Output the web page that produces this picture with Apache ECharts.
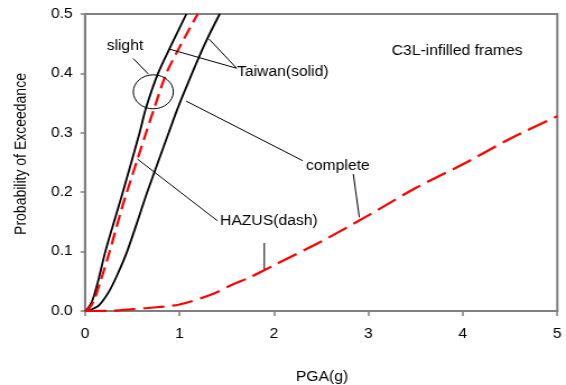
<!DOCTYPE html>
<html>
<head>
<meta charset="utf-8">
<script src="https://cdn.jsdelivr.net/npm/echarts@6/dist/echarts.min.js"></script>
<style>
  html, body { margin: 0; padding: 0; background: #fff; overflow: hidden; }
  /* the figure is drawn 505 px wide and widened to 566 px, as in the printed figure */
  #chart { width: 505px; height: 385px; transform: scaleX(1.12079); transform-origin: 0 0; }
</style>
</head>
<body>
<div id="chart"></div>
<script>
// Fragility curves for C3L infilled frames: probability of exceedance vs PGA (g)
const xTicks = [0, 1, 2, 3, 4, 5];
const yTicks = [0.0, 0.1, 0.2, 0.3, 0.4, 0.5];

// Taiwan (solid) curves, [PGA, probability]
const taiwanSlight = [
  [0, 0], [0.02, 0.002], [0.074, 0.016], [0.138, 0.05], [0.215, 0.1],
  [0.35, 0.173], [0.40, 0.2], [0.578, 0.3], [0.646, 0.342], [0.773, 0.4],
  [0.92, 0.45], [1.073, 0.5]
];
const taiwanComplete = [
  [0, 0], [0.06, 0.002], [0.15, 0.010], [0.255, 0.033], [0.342, 0.061],
  [0.445, 0.1], [0.585, 0.165], [0.658, 0.2], [0.886, 0.3], [0.983, 0.342],
  [1.133, 0.4], [1.27, 0.45], [1.426, 0.5]
];

// HAZUS (dash) curves, [PGA, probability]
const hazusSlight = [
  [0, 0], [0.035, 0.003], [0.09, 0.016], [0.17, 0.053], [0.26, 0.1],
  [0.39, 0.173], [0.443, 0.2], [0.646, 0.3], [0.734, 0.342], [0.861, 0.4],
  [1.02, 0.45], [1.193, 0.5]
];
const hazusComplete = [
  [0, 0], [0.3, 0.0005], [0.51, 0.003], [0.66, 0.005], [1.0, 0.011],
  [1.36, 0.029], [1.54, 0.043], [1.75, 0.057], [2.0, 0.077], [2.5, 0.117],
  [3.0, 0.161], [3.5, 0.207], [4.0, 0.247], [4.5, 0.29], [5.0, 0.328]
];

const axisGray = '#808080';
const font = 'Arial, "Liberation Sans", sans-serif';
const stretch = 1.12079; // horizontal widening applied by the CSS transform

const chart = echarts.init(document.getElementById('chart'), null, { renderer: 'canvas' });

function curve(name, data, color, dash, width) {
  return {
    name: name,
    type: 'line',
    data: data,
    showSymbol: false,
    smooth: 0.3,
    clip: true,
    lineStyle: { color: color, width: width, type: dash },
    emphasis: { disabled: true },
    z: dash === 'solid' ? 2 : 3
  };
}

chart.setOption({
  animation: false,
  backgroundColor: '#fff',
  grid: {
    left: 75.84, right: 7.76, top: 14, bottom: 74,
    show: true, borderColor: axisGray, borderWidth: 2, backgroundColor: 'transparent'
  },
  xAxis: {
    type: 'value',
    min: xTicks[0], max: xTicks[xTicks.length - 1], interval: 1,
    axisLine: { show: true, onZero: false, lineStyle: { color: axisGray, width: 2 } },
    axisTick: { show: true, inside: false, length: 5, lineStyle: { color: axisGray, width: 1.5 } },
    axisLabel: { color: '#000', fontSize: 14, fontFamily: font, margin: 16,
      formatter: v => String(v) },
    splitLine: { show: false }
  },
  yAxis: {
    type: 'value',
    min: yTicks[0], max: yTicks[yTicks.length - 1], interval: 0.1,
    axisLine: { show: true, onZero: false, lineStyle: { color: axisGray, width: 2 } },
    axisTick: { show: true, inside: false, length: 4, lineStyle: { color: axisGray, width: 1.5 } },
    axisLabel: { color: '#000', fontSize: 14, fontFamily: font, margin: 11,
      formatter: v => v.toFixed(1) },
    splitLine: { show: false }
  },
  series: [
    curve('Taiwan slight', taiwanSlight, '#000', 'solid', 1.8),
    curve('Taiwan complete', taiwanComplete, '#000', 'solid', 1.8),
    curve('HAZUS slight', hazusSlight, '#ff0000', [12, 6], 2.2),
    curve('HAZUS complete', hazusComplete, '#ff0000', [19, 7], 2.2)
  ]
});

// Annotations placed in data units (PGA, probability)
const labels = [
  { text: 'slight', at: [0.423, 0.446], align: 'center' },
  { text: 'Taiwan(solid)', at: [1.609, 0.4015], align: 'left' },
  { text: 'complete', at: [2.34, 0.2441], align: 'left' },
  { text: 'HAZUS(dash)', at: [1.429, 0.1515], align: 'left' },
  { text: 'C3L-infilled frames', at: [3.247, 0.4377], align: 'left' }
];
const leaders = [
  [[0.511, 0.425], [0.670, 0.399]],
  [[1.606, 0.4086], [0.900, 0.4406]],
  [[1.606, 0.4086], [1.313, 0.4579]],
  [[1.069, 0.3535], [2.305, 0.253]],
  [[2.840, 0.2306], [2.904, 0.1577]],
  [[1.401, 0.152], [0.554, 0.2559]],
  [[1.898, 0.1145], [1.898, 0.0707]]
];
const ring = { at: [0.723, 0.369], rx: 20 / stretch, ry: 17 };

const toPx = p => chart.convertToPixel({ gridIndex: 0 }, p);
const elements = [];
labels.forEach(l => {
  const p = toPx(l.at);
  elements.push({
    type: 'text', x: p[0], y: p[1], z: 10,
    style: { text: l.text, fill: '#000', font: '14px ' + font, textAlign: l.align, textVerticalAlign: 'middle' }
  });
});
leaders.forEach(seg => {
  const a = toPx(seg[0]), b = toPx(seg[1]);
  elements.push({
    type: 'line', z: 10,
    shape: { x1: a[0], y1: a[1], x2: b[0], y2: b[1] },
    style: { stroke: '#000', lineWidth: 1 }
  });
});
const c = toPx(ring.at);
elements.push({
  type: 'ellipse', z: 10,
  shape: { cx: c[0], cy: c[1], rx: ring.rx, ry: ring.ry },
  style: { fill: 'none', stroke: '#000', lineWidth: 1 }
});
// Axis titles
elements.push({
  type: 'text', x: 322 / stretch, y: 377, z: 10,
  style: { text: 'PGA(g)', fill: '#000', font: '14px ' + font, textAlign: 'center', textVerticalAlign: 'middle' }
});
elements.push({
  type: 'text', x: 21 / stretch, y: 154, rotation: Math.PI / 2, z: 10,
  style: { text: 'Probability of Exceedance', fill: '#000', font: '14px ' + font, textAlign: 'center', textVerticalAlign: 'middle' }
});
chart.setOption({ graphic: { elements: elements } });
</script>
</body>
</html>
